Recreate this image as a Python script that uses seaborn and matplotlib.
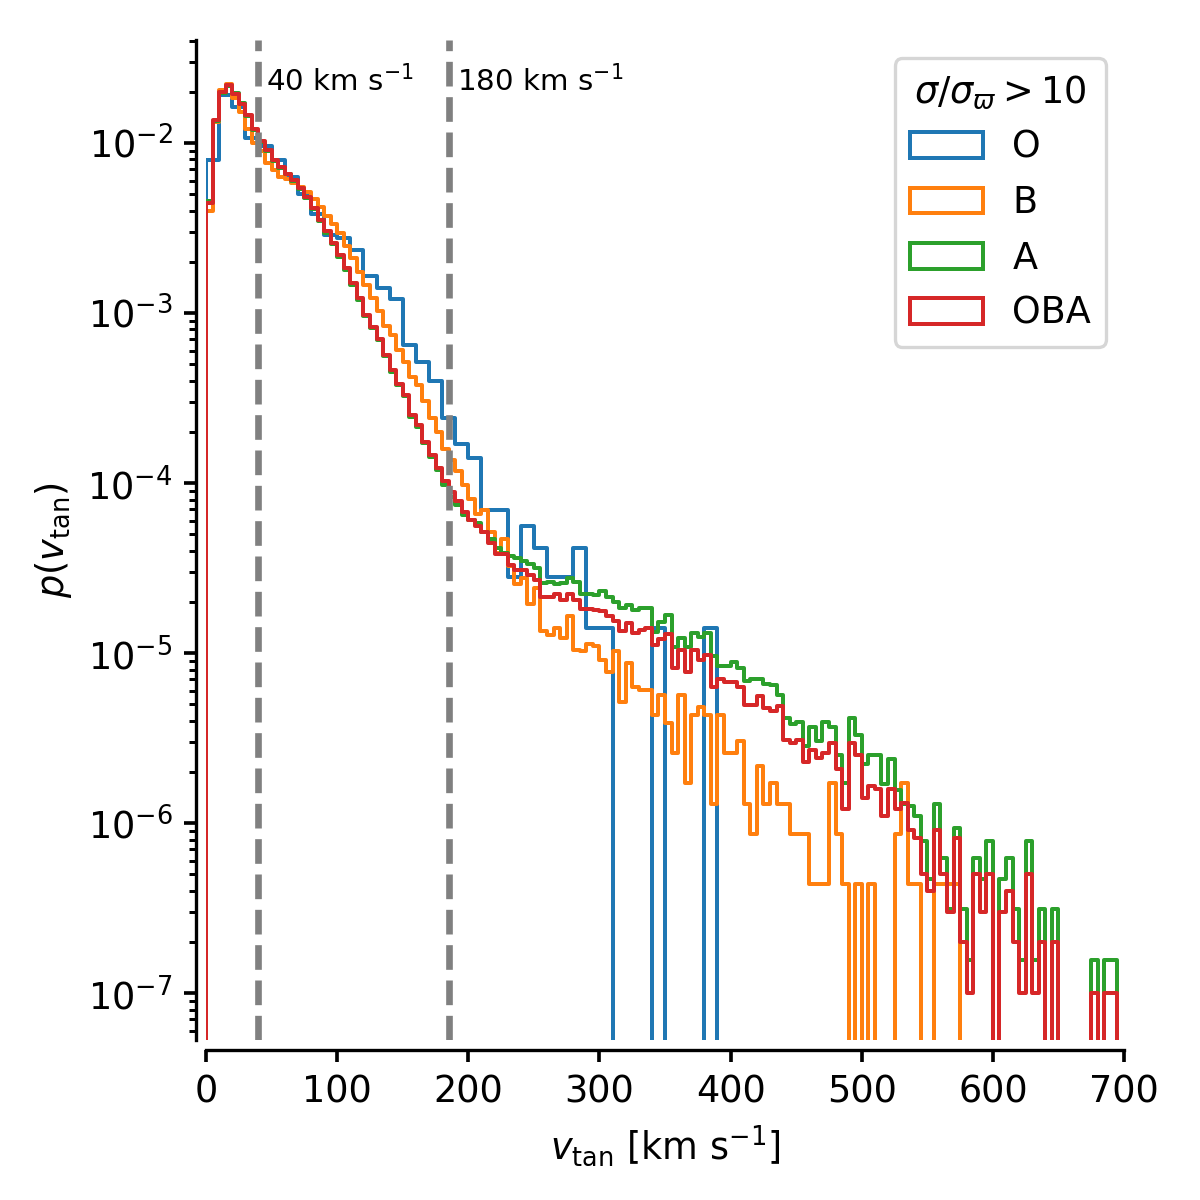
import numpy as np
import pandas as pd
import matplotlib
matplotlib.use("Agg")
import matplotlib.pyplot as plt
from matplotlib.patches import Patch
import seaborn as sns

nan = np.nan

# bin widths in km/s, histograms run from 0 to 700
o_width = 10
oba_width = 5
v_max = 700

# log10 p(v_tan) per bin (nan = empty bin)
# O stars, 10 km/s bins
o_logp = [-2.10, -1.72, -1.79, -1.97, -2.02, -2.10, -2.20, -2.30, -2.42, -2.54,
          -2.56, -2.63, -2.78, -2.85, -2.92, -3.19, -3.29, -3.40, -3.62, -3.77,
          -3.85, -4.16, -4.16, -4.55, -4.25, -4.38, -4.55, -4.55, -4.38, -4.85,
          -4.85, nan, nan, nan, -4.85, nan, nan, nan, -4.85] + [nan] * 31

# B stars, 5 km/s bins
b_logp = [-2.40, -1.875, -1.69, -1.655, -1.737, -1.816, -1.92, -1.998, -2.05, -2.12,
          -2.16, -2.20, -2.21, -2.237, -2.26, -2.29, -2.33, -2.375, -2.43, -2.478,
          -2.53, -2.606, -2.678, -2.757, -2.835, -2.914, -2.99, -3.075, -3.13, -3.22,
          -3.286, -3.375, -3.424, -3.52, -3.62, -3.70, -3.80, -3.865, -3.93, -4.01,
          -4.096, -4.18, -4.16, -4.286, -4.41, -4.33, -4.49, -4.594, -4.56, -4.71,
          -4.62, -4.87, -4.894, -4.855, -4.914, -4.78, -4.98, -4.99, -4.947, -4.96,
          -5.04, -5.11, -4.99, -5.286, -5.06, -5.20, -5.215, -5.215, -5.365, -5.247,
          -5.41, -5.586, -5.247, -5.763, -5.365, -5.316, -5.365, -5.888, -5.365, -5.586,
          -5.586, -5.516, -5.888, -6.065, -5.665, -5.888, -5.763, -5.888, -5.888, -6.065,
          -6.065, -6.065, -6.36, -6.36, -6.36, -5.763, -6.065, -6.36, nan, -6.36,
          nan, -6.36, nan, nan, nan, -6.065, -5.763, -6.36, -6.36, nan,
          nan, -6.36, -6.36, -6.36, -6.36] + [nan] * 25

# A stars, 5 km/s bins
a_logp = [-2.34, -1.87, -1.705, -1.665, -1.705, -1.765, -1.84, -1.925, -1.995, -2.045,
          -2.105, -2.145, -2.185, -2.225, -2.27, -2.325, -2.39, -2.46, -2.53, -2.595,
          -2.67, -2.745, -2.835, -2.925, -3.02, -3.09, -3.16, -3.255, -3.345, -3.425,
          -3.49, -3.61, -3.67, -3.765, -3.845, -3.925, -4.01, -4.08, -4.13, -4.19,
          -4.22, -4.235, -4.29, -4.33, -4.38, -4.414, -4.43, -4.44, -4.457, -4.476,
          -4.50, -4.59, -4.58, -4.594, -4.59, -4.56, -4.58, -4.653, -4.653, -4.66,
          -4.633, -4.67, -4.70, -4.737, -4.72, -4.747, -4.737, -4.737, -4.874, -4.82,
          -4.776, -4.963, -4.914, -4.963, -4.88, -4.904, -4.884, -5.02, -5.075, -5.075,
          -5.05, -5.09, -5.163, -5.155, -5.15, -5.18, -5.19, -5.247, -5.384, -5.42,
          -5.404, -5.547, -5.437, -5.52, -5.404, -5.437, -5.60, -5.765, -5.384, -5.48,
          -5.65, -5.60, -5.60, -5.77, -5.625, -5.805, -5.89, -5.90, -5.96, -6.107,
          -6.33, -5.89, -6.205, -6.505, -6.03, -6.505, -6.806, -6.205, -6.33, -6.107,
          nan, -6.33, -6.205, -6.505, -6.806, -6.107, -6.806, -6.505, nan, -6.505,
          nan, nan, nan, nan, nan, -6.806, nan, -6.806, -6.806, nan]

# all OBA stars, 5 km/s bins
oba_logp = [-2.35, -1.865, -1.70, -1.66, -1.71, -1.77, -1.835, -1.92, -1.99, -2.04,
            -2.10, -2.14, -2.18, -2.22, -2.265, -2.32, -2.38, -2.45, -2.52, -2.586,
            -2.66, -2.737, -2.825, -2.914, -3.01, -3.08, -3.15, -3.247, -3.335, -3.418,
            -3.48, -3.60, -3.66, -3.757, -3.835, -3.914, -3.99, -4.05, -4.105, -4.17,
            -4.22, -4.25, -4.29, -4.355, -4.42, -4.42, -4.48, -4.51, -4.51, -4.54,
            -4.57, -4.67, -4.67, -4.65, -4.69, -4.65, -4.69, -4.74, -4.74, -4.745,
            -4.75, -4.78, -4.81, -4.87, -4.825, -4.88, -4.865, -4.855, -4.95, -4.92,
            -4.89, -5.09, -4.98, -5.11, -4.98, -5.04, -5.01, -5.20, -5.155, -5.17,
            -5.17, -5.20, -5.305, -5.305, -5.25, -5.325, -5.34, -5.31, -5.51, -5.53,
            -5.51, -5.64, -5.57, -5.62, -5.59, -5.53, -5.68, -5.92, -5.53, -5.60,
            -5.855, -5.78, -5.80, -5.96, -5.80, -5.92, -5.88, -6.04, -6.09, -6.30,
            -6.40, -6.04, -6.30, -6.52, -6.09, -6.70, -7.0, -6.30, -6.52, -6.30,
            nan, -6.52, -6.40, -6.70, -7.0, -6.30, -7.0, -6.70, nan, -6.70,
            nan, nan, nan, nan, nan, -7.0, nan, -7.0, -7.0, nan]

labels = ["O", "B", "A", "OBA"]
colors = ["C0", "C1", "C2", "C3"]
widths = [o_width, oba_width, oba_width, oba_width]
all_logp = [o_logp, b_logp, a_logp, oba_logp]

# reference lines
v_lines = [40, 185]
v_line_text = [r"40 km s$^{-1}$", r"180 km s$^{-1}$"]

plt.rcParams.update({
    "font.size": 11,
    "axes.linewidth": 1.0,
    "xtick.major.width": 1.1,
    "ytick.major.width": 1.1,
    "ytick.minor.width": 0.9,
})

fig, ax = plt.subplots(figsize=(5, 5), dpi=240)
fig.subplots_adjust(left=0.1717, right=0.9367, bottom=0.1333, top=0.9667)

for logp, width, color in zip(all_logp, widths, colors):
    dens = np.nan_to_num(np.power(10.0, np.asarray(logp, dtype=float)), nan=0.0)
    # an empty bin in front so the step rises from the baseline at v=0
    edges = np.arange(-width, v_max + width / 2, width)
    df = pd.DataFrame({"v": edges[:-1] + width / 2, "w": np.r_[0.0, dens]})
    sns.histplot(data=df, x="v", weights="w", bins=list(edges), element="step",
                 fill=False, color=color, linewidth=1.2, ax=ax)

ax.set_yscale("log")
ax.set_xlim(0, v_max)
ax.set_ylim(10 ** -7.276, 10 ** -1.394)
ax.set_xticks(np.arange(0, 701, 100))

for v, txt in zip(v_lines, v_line_text):
    ax.axvline(v, color="grey", ls="--", lw=2)
    ax.text(v + 6, 0.96, txt, transform=ax.get_xaxis_transform(),
            fontsize=8.8, va="center", ha="left")

ax.set_xlabel(r"$v_{\rm tan}$ [km s$^{-1}$]")
ax.set_ylabel(r"$p(v_{\rm tan})$")

handles = [Patch(facecolor="none", edgecolor=c, linewidth=1.2) for c in colors]
ax.legend(handles, labels, title=r"$\sigma/\sigma_\varpi > 10$",
          loc="upper right", fontsize=11, title_fontsize=11)

sns.despine(ax=ax, offset=3)

fig.savefig("out.png", dpi=240)
